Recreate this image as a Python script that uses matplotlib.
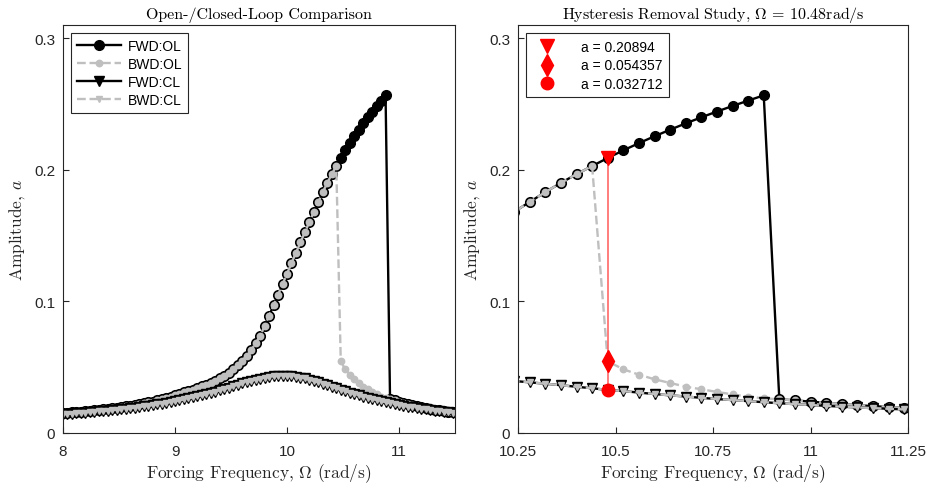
import numpy as np
import matplotlib
matplotlib.use("Agg")
import matplotlib.pyplot as plt

plt.rcParams["font.family"] = ["Liberation Sans", "DejaVu Sans"]
plt.rcParams["mathtext.fontset"] = "cm"

# ─── Data ─────────────────────────────────────────────────────────────────────

# frequency sweep grid, 8.00 ... 11.48 rad/s in 0.04 steps
omega = np.round(np.linspace(8.0, 11.48, 88), 2)

# forward sweep, open loop (upper branch up to 10.88, then jump down)
amp_fwd_ol = np.array([
    0.0150, 0.0153, 0.0156, 0.0159, 0.0162, 0.0165, 0.0168, 0.0172, 0.0175, 0.0179,
    0.0183, 0.0188, 0.0192, 0.0197, 0.0202, 0.0207, 0.0213, 0.0219, 0.0225, 0.0232,
    0.0239, 0.0247, 0.0255, 0.0264, 0.0274,
    0.0286, 0.0297, 0.0308, 0.0319, 0.0330, 0.0342, 0.0354, 0.0367, 0.0381, 0.0397,
    0.0415, 0.0435, 0.0458, 0.0485, 0.0515, 0.0550, 0.0588, 0.0631, 0.0680, 0.0740,
    0.0812, 0.0890, 0.0970, 0.1050, 0.1130,
    0.1210, 0.1290, 0.1369, 0.1448, 0.1526, 0.1603, 0.1680, 0.1755, 0.1830, 0.1900,
    0.1966, 0.2028, 0.2089, 0.2147, 0.2202, 0.2254, 0.2304, 0.2352, 0.2398, 0.2442,
    0.2484, 0.2525, 0.2565, 0.0256, 0.0248,
    0.0238, 0.0229, 0.0220, 0.0212, 0.0204, 0.0197, 0.0190, 0.0184, 0.0178, 0.0172,
    0.0167, 0.0162, 0.0157,
])

# backward sweep, open loop (lower branch down to 10.48, then jump up)
amp_bwd_ol = np.array([
    0.0150, 0.0153, 0.0156, 0.0159, 0.0162, 0.0165, 0.0168, 0.0172, 0.0175, 0.0179,
    0.0183, 0.0188, 0.0192, 0.0197, 0.0202, 0.0207, 0.0213, 0.0219, 0.0225, 0.0232,
    0.0239, 0.0247, 0.0255, 0.0264, 0.0274,
    0.0286, 0.0297, 0.0308, 0.0319, 0.0330, 0.0342, 0.0354, 0.0367, 0.0381, 0.0397,
    0.0415, 0.0435, 0.0458, 0.0485, 0.0515, 0.0550, 0.0588, 0.0631, 0.0680, 0.0740,
    0.0812, 0.0890, 0.0970, 0.1050, 0.1130,
    0.1210, 0.1290, 0.1369, 0.1448, 0.1526, 0.1603, 0.1680, 0.1755, 0.1830, 0.1900,
    0.1966, 0.2028, 0.0544, 0.0484, 0.0443, 0.0408, 0.0380, 0.0352, 0.0332, 0.0312,
    0.0293, 0.0276, 0.0263, 0.0256, 0.0248,
    0.0238, 0.0229, 0.0220, 0.0212, 0.0204, 0.0197, 0.0190, 0.0184, 0.0178, 0.0172,
    0.0167, 0.0162, 0.0157,
])

# closed loop (forward and backward sweeps coincide)
amp_cl = np.array([
    0.0142, 0.0144, 0.0147, 0.0149, 0.0152, 0.0155, 0.0158, 0.0161, 0.0164, 0.0167,
    0.0170, 0.0174, 0.0177, 0.0181, 0.0185, 0.0189, 0.0193, 0.0198, 0.0202, 0.0207,
    0.0212, 0.0218, 0.0223, 0.0229, 0.0235,
    0.0242, 0.0248, 0.0255, 0.0263, 0.0271, 0.0279, 0.0287, 0.0296, 0.0305, 0.0315,
    0.0324, 0.0334, 0.0345, 0.0355, 0.0366, 0.0376, 0.0386, 0.0396, 0.0405, 0.0413,
    0.0421, 0.0427, 0.0431, 0.0434, 0.0435,
    0.0434, 0.0432, 0.0427, 0.0421, 0.0414, 0.0405, 0.0395, 0.0385, 0.0374, 0.0363,
    0.0351, 0.0340, 0.0327, 0.0318, 0.0307, 0.0296, 0.0286, 0.0277, 0.0267, 0.0258,
    0.0250, 0.0242, 0.0234, 0.0226, 0.0219,
    0.0213, 0.0206, 0.0200, 0.0194, 0.0189, 0.0184, 0.0179, 0.0174, 0.0169, 0.0165,
    0.0161, 0.0156, 0.0153,
])

# hysteresis removal study at a single frequency
omega_study = 10.48
amp_study = [0.20894, 0.054357, 0.032712]
study_labels = ["a = 0.20894", "a = 0.054357", "a = 0.032712"]
study_markers = ["v", "d", "o"]
study_sizes = [10, 11, 9]

# ─── Styling ──────────────────────────────────────────────────────────────────

GREY = "#bfbfbf"
SERIF = "cmr10"
AXCOL = "#262626"

fig = plt.figure(figsize=(9.32, 4.89), dpi=100)
ax1 = fig.add_axes([0.0676, 0.1125, 0.4206, 0.8345])
ax2 = fig.add_axes([0.5558, 0.1125, 0.4185, 0.8345])


def draw_sweeps(ax):
    ax.plot(omega, amp_fwd_ol, "-", color="k", lw=1.7, marker="o", ms=7,
            mfc="k", mec="k", label="FWD:OL")
    ax.plot(omega, amp_bwd_ol, "--", color=GREY, lw=1.7, marker="o", ms=4.6,
            mfc=GREY, mec=GREY, label="BWD:OL")
    ax.plot(omega, amp_cl, "-", color="k", lw=1.7, marker="v", ms=7.5,
            mfc="k", mec="k", label="FWD:CL")
    ax.plot(omega, amp_cl, "--", color=GREY, lw=1.7, marker="v", ms=5,
            mfc=GREY, mec=GREY, label="BWD:CL")


def style_axes(ax, title):
    ax.set_ylim(0, 0.31)
    ax.set_yticks([0, 0.1, 0.2, 0.3])
    ax.set_yticklabels(["0", "0.1", "0.2", "0.3"])
    ax.tick_params(direction="in", length=4, width=0.8, labelsize=11,
                   colors=AXCOL, top=False, right=False)
    ax.tick_params(axis="x", pad=8)
    ax.tick_params(axis="y", pad=5.5)
    for sp in ax.spines.values():
        sp.set_color(AXCOL)
        sp.set_linewidth(0.8)
    ax.set_xlabel(r"Forcing Frequency, $\Omega$ (rad/s)", fontfamily=SERIF,
                  fontsize=12.5, color=AXCOL, labelpad=2)
    ax.set_ylabel(r"Amplitude, $a$", fontfamily=SERIF, fontsize=12.5,
                  color=AXCOL, labelpad=5)
    ax.set_title(title, fontfamily=SERIF, fontsize=11.5, color="k", pad=5)


# ─── Left: open-/closed-loop comparison ───────────────────────────────────────

draw_sweeps(ax1)
ax1.set_xlim(8, 11.5)
ax1.set_xticks([8, 9, 10, 11])
ax1.set_xticklabels(["8", "9", "10", "11"])
style_axes(ax1, "Open-/Closed-Loop Comparison")
leg = ax1.legend(loc="upper left", fontsize=10, frameon=True, fancybox=False,
                 edgecolor=AXCOL, framealpha=1, handlelength=3.2,
                 handletextpad=0.5, borderaxespad=0.6, labelspacing=0.3,
                 borderpad=0.4)
leg.get_frame().set_linewidth(0.8)

# ─── Right: hysteresis removal study ──────────────────────────────────────────

draw_sweeps(ax2)
ax2.plot([omega_study, omega_study], [amp_study[2], amp_study[0]],
         color="#ff5a5a", lw=1.1, zorder=4)
handles = []
for a, lab, m, s in zip(amp_study, study_labels, study_markers, study_sizes):
    h, = ax2.plot([omega_study], [a], linestyle="none", marker=m, ms=s,
                  color="red", mec="red", zorder=5, label=lab)
    handles.append(h)
ax2.set_xlim(10.25, 11.25)
ax2.set_xticks([10.25, 10.5, 10.75, 11, 11.25])
ax2.set_xticklabels(["10.25", "10.5", "10.75", "11", "11.25"])
style_axes(ax2, r"Hysteresis Removal Study, $\Omega$ = 10.48rad/s")
leg2 = ax2.legend(handles=handles, loc="upper left", fontsize=10, frameon=True,
                  fancybox=False, edgecolor=AXCOL, framealpha=1,
                  handlelength=2.0, handletextpad=1.4, borderaxespad=0.6,
                  labelspacing=0.3, borderpad=0.5)
leg2.get_frame().set_linewidth(0.8)

fig.savefig("out.png", dpi=100)
